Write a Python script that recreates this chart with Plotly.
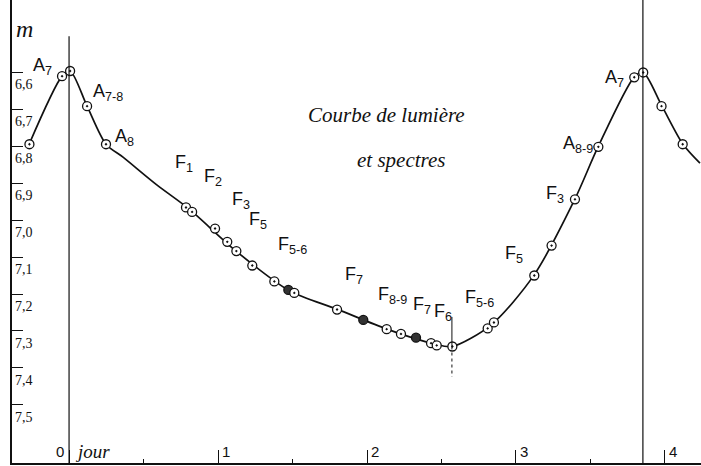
import plotly.graph_objects as go

# observed points (phase in days, magnitude)
obs_day = [-0.266, -0.047, 0.007, 0.121, 0.248, 0.785, 0.826, 0.980, 1.062, 1.123,
           1.230, 1.378, 1.472, 1.512, 1.799, 1.975, 2.132, 2.228, 2.329, 2.430,
           2.468, 2.573, 2.810, 2.852, 3.123, 3.239, 3.396, 3.553, 3.794, 3.854,
           3.977, 4.119]
obs_mag = [6.795, 6.611, 6.597, 6.692, 6.795, 6.966, 6.978, 7.023, 7.059, 7.084,
           7.123, 7.166, 7.189, 7.197, 7.242, 7.270, 7.295, 7.308, 7.318, 7.333,
           7.339, 7.342, 7.293, 7.277, 7.150, 7.069, 6.944, 6.802, 6.614, 6.601,
           6.692, 6.795]
obs_filled = [12, 15, 18]

# mean light curve drawn through the points
curve_day = [-0.268, -0.047, 0.007, 0.121, 0.248, 0.362, 0.589, 0.805, 1.121, 1.483,
             1.799, 2.134, 2.450, 2.570, 2.832, 3.121, 3.396, 3.550, 3.792, 3.852,
             3.980, 4.121, 4.235]
curve_mag = [6.795, 6.611, 6.597, 6.692, 6.795, 6.830, 6.905, 6.970, 7.084, 7.192,
             7.241, 7.295, 7.335, 7.342, 7.284, 7.149, 6.943, 6.803, 6.614, 6.600,
             6.692, 6.795, 6.846]

max_days = [0.0, 3.852]
min_day = 2.570
min_mag = 7.342

# spectral type labels
spec_text = ['A<sub>7</sub>', 'A<sub>7-8</sub>', 'A<sub>8</sub>', 'F<sub>1</sub>', 'F<sub>2</sub>',
             'F<sub>3</sub>', 'F<sub>5</sub>', 'F<sub>5-6</sub>', 'F<sub>7</sub>', 'F<sub>8-9</sub>',
             'F<sub>7</sub>', 'F<sub>6</sub>', 'F<sub>5-6</sub>', 'F<sub>5</sub>', 'F<sub>3</sub>',
             'A<sub>8-9</sub>', 'A<sub>7</sub>']
spec_day = [-0.175, 0.262, 0.369, 0.772, 0.966, 1.154, 1.268, 1.500, 1.913, 2.168,
            2.369, 2.510, 2.758, 2.987, 3.262, 3.416, 3.658]
spec_mag = [6.586, 6.654, 6.776, 6.846, 6.886, 6.946, 7.000, 7.068, 7.149, 7.203,
            7.230, 7.249, 7.211, 7.092, 6.932, 6.797, 6.616]

y_ticks = [6.6, 6.7, 6.8, 6.9, 7.0, 7.1, 7.2, 7.3, 7.4, 7.5]
y_labels = ['6,6', '6,7', '6,8', '6,9', '7,0', '7,1', '7,2', '7,3', '7,4', '7,5']
x_ticks = [1, 2, 3, 4]

x0, x1 = -0.383, 4.242
y_bottom, y_top = 7.657, 6.405
ink = '#111111'
hand = 'Liberation Serif'

fig = go.Figure()
fig.add_trace(go.Scatter(x=curve_day, y=curve_mag, mode='lines',
                         line=dict(color=ink, width=1.7, shape='spline', smoothing=0.8),
                         hoverinfo='skip'))
fig.add_trace(go.Scatter(
    x=obs_day, y=obs_mag, mode='markers',
    marker=dict(symbol=['circle' if i in obs_filled else 'circle-dot' for i in range(len(obs_day))],
                size=9,
                color=['#333333' if i in obs_filled else 'white' for i in range(len(obs_day))],
                line=dict(color=ink, width=1.3)),
))

for d in max_days:
    fig.add_shape(type='line', x0=d, x1=d, y0=6.503 if d == 0 else y_top, y1=y_bottom,
                  line=dict(color=ink, width=1.2))
fig.add_shape(type='line', x0=min_day, x1=min_day, y0=7.262, y1=min_mag,
              line=dict(color=ink, width=1))
fig.add_shape(type='line', x0=min_day, x1=min_day, y0=min_mag, y1=7.424,
              line=dict(color=ink, width=1, dash='dot'))

for t, d, m in zip(spec_text, spec_day, spec_mag):
    fig.add_annotation(x=d, y=m, text=t, showarrow=False,
                       font=dict(family='Liberation Sans', size=18, color=ink))

for v, lab in zip(y_ticks, y_labels):
    fig.add_annotation(x=x0, y=v, text=lab, showarrow=False, xanchor='left', yanchor='top',
                       xshift=1, yshift=-3, font=dict(family=hand, size=14, color=ink))

fig.add_annotation(x=0, y=y_bottom, text='0', showarrow=False, xanchor='right', yanchor='bottom',
                   xshift=-3, yshift=1, font=dict(family='Liberation Sans', size=15, color=ink))
fig.add_annotation(x=0, y=y_bottom, text='<i>jour</i>', showarrow=False, xanchor='left',
                   yanchor='bottom', xshift=4, yshift=-1, font=dict(family=hand, size=19, color=ink))
for t in x_ticks:
    fig.add_annotation(x=t, y=y_bottom, text=str(t), showarrow=False, xanchor='left',
                       yanchor='bottom', xshift=2, yshift=1,
                       font=dict(family='Liberation Sans', size=15, color=ink))

fig.add_annotation(x=x0, y=y_top, text='<i>m</i>', showarrow=False, xanchor='left', yanchor='top',
                   xshift=2, yshift=-14, font=dict(family=hand, size=24, color=ink))
fig.add_annotation(x=2.13, y=6.716, text='<i>Courbe de lumière</i>', showarrow=False,
                   font=dict(family=hand, size=21, color=ink))
fig.add_annotation(x=2.23, y=6.838, text='<i>et spectres</i>', showarrow=False,
                   font=dict(family=hand, size=21, color=ink))

fig.update_layout(
    width=701, height=466,
    margin=dict(l=0, r=0, t=0, b=0),
    paper_bgcolor='white', plot_bgcolor='white',
    showlegend=False,
    xaxis=dict(domain=[12 / 701, 1], range=[x0, x1], showgrid=False, zeroline=False,
               showline=True, linecolor=ink, linewidth=2,
               tickmode='array', tickvals=[0] + x_ticks, ticks='inside', ticklen=13,
               tickcolor=ink, tickwidth=1.3, showticklabels=False,
               minor=dict(dtick=0.5, ticks='inside', ticklen=4, tickcolor=ink)),
    yaxis=dict(domain=[3 / 466, 1], range=[y_bottom, y_top], showgrid=False, zeroline=False,
               showline=True, linecolor=ink, linewidth=2,
               tickmode='array', tickvals=y_ticks, ticks='inside', ticklen=11,
               tickcolor=ink, tickwidth=1.3, showticklabels=False),
)

fig.write_html('out.html', config={'displayModeBar': False},
               post_script="document.body.style.margin='0';document.body.style.overflow='hidden';")
